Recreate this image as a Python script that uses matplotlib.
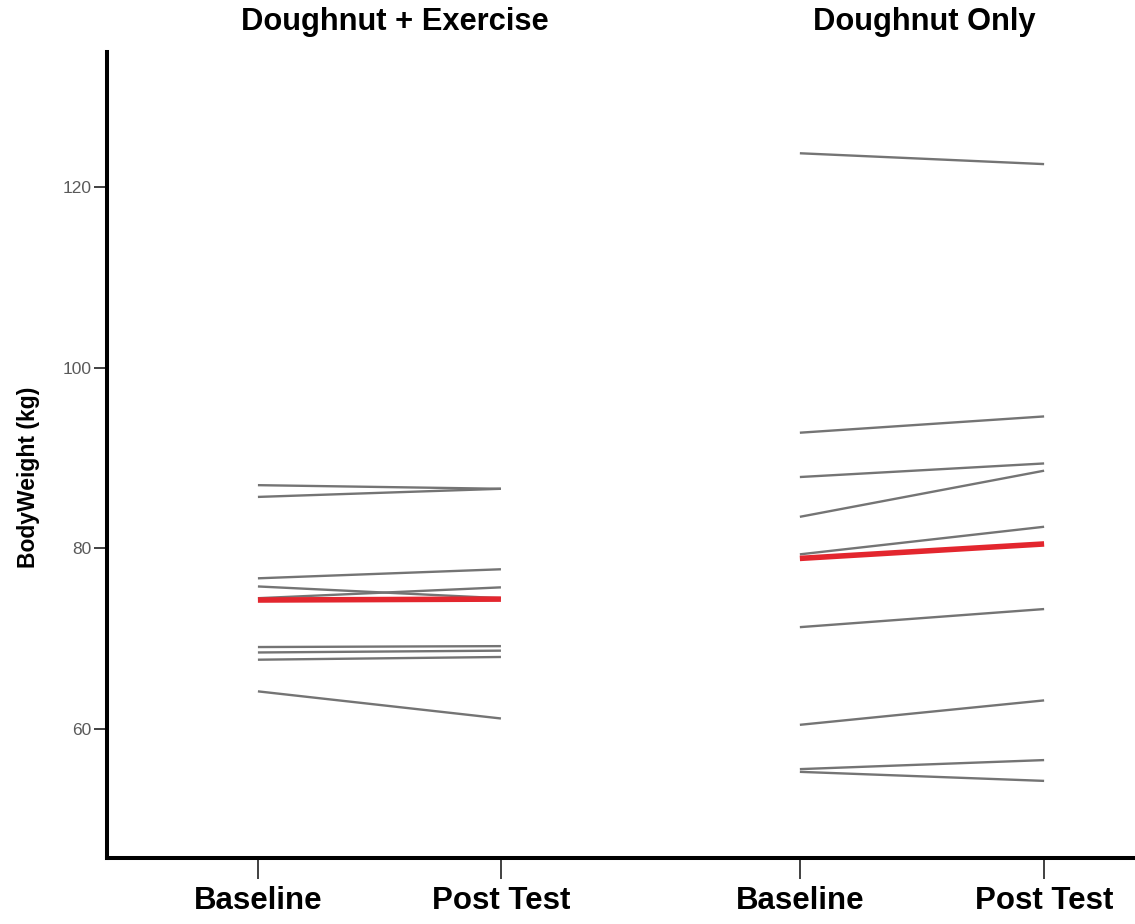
import matplotlib
matplotlib.use("Agg")
import matplotlib.pyplot as plt
import matplotlib.transforms as mtransforms

plt.rcParams['font.family'] = ['Liberation Sans', 'DejaVu Sans']

# ---- data ----
groups = ["Doughnut + Exercise", "Doughnut Only"]
time_labels = ["Baseline", "Post Test", "Baseline", "Post Test"]

ex_baseline = [87.0, 85.7, 76.7, 75.8, 74.5, 69.1, 68.5, 67.7, 64.2]
ex_post     = [86.6, 86.6, 77.7, 74.5, 75.7, 69.2, 68.7, 68.0, 61.2]
ex_mean     = [74.3, 74.4]

only_baseline = [123.7, 92.8, 87.9, 83.5, 79.35, 71.3, 60.5, 55.6, 55.3]
only_post     = [122.5, 94.6, 89.4, 88.6, 82.4, 73.3, 63.2, 56.6, 54.3]
only_mean     = [78.9, 80.5]

y_ticks = [60, 80, 100, 120]

# ---- layout ----
x_pos = [0.0, 1.0, 2.23, 3.235]
W, H = 1135, 924
fig = plt.figure(figsize=(W / 100, H / 100), dpi=100)
ax = fig.add_axes([107 / W, (H - 858.3) / H, (W - 107) / W, (858.3 - 51.7) / H])

gray = '#747474'
red = '#e3262e'

for b, p in zip(ex_baseline, ex_post):
    ax.plot(x_pos[0:2], [b, p], color=gray, lw=1.7, solid_capstyle='butt', zorder=2)
for b, p in zip(only_baseline, only_post):
    ax.plot(x_pos[2:4], [b, p], color=gray, lw=1.7, solid_capstyle='butt', zorder=2)
ax.plot(x_pos[0:2], ex_mean, color=red, lw=4.0, solid_capstyle='butt', zorder=3)
ax.plot(x_pos[2:4], only_mean, color=red, lw=4.0, solid_capstyle='butt', zorder=3)

ax.set_xlim(-0.621, 3.609)
ax.set_ylim(45.74, 134.93)

for s in ['top', 'right']:
    ax.spines[s].set_visible(False)
for s in ['left', 'bottom']:
    ax.spines[s].set_linewidth(2.9)
    ax.spines[s].set_color('black')

ax.set_xticks(x_pos)
ax.set_xticklabels(time_labels, fontsize=22.5, fontweight='bold')
ax.tick_params(axis='x', length=15, width=1.3, color='#333333', pad=5, direction='out')

ax.set_yticks(y_ticks)
ax.set_yticklabels([str(v) for v in y_ticks], fontsize=12.5, color='#5a5a5a')
ax.tick_params(axis='y', length=9.5, width=1.3, color='#333333', pad=1.5, direction='out')

ax.set_ylabel("BodyWeight (kg)", fontsize=16.5, fontweight='bold')
ax.yaxis.set_label_coords(-0.0652, 0.4727)

trans = mtransforms.blended_transform_factory(ax.transData, fig.transFigure)
ax.text(0.564, 1 - 22 / H, groups[0], transform=trans, ha='center', va='center',
        fontsize=22.2, fontweight='bold', clip_on=False)
ax.text(2.74, 1 - 22 / H, groups[1], transform=trans, ha='center', va='center',
        fontsize=22.2, fontweight='bold', clip_on=False)

fig.savefig("out.png", dpi=100)
